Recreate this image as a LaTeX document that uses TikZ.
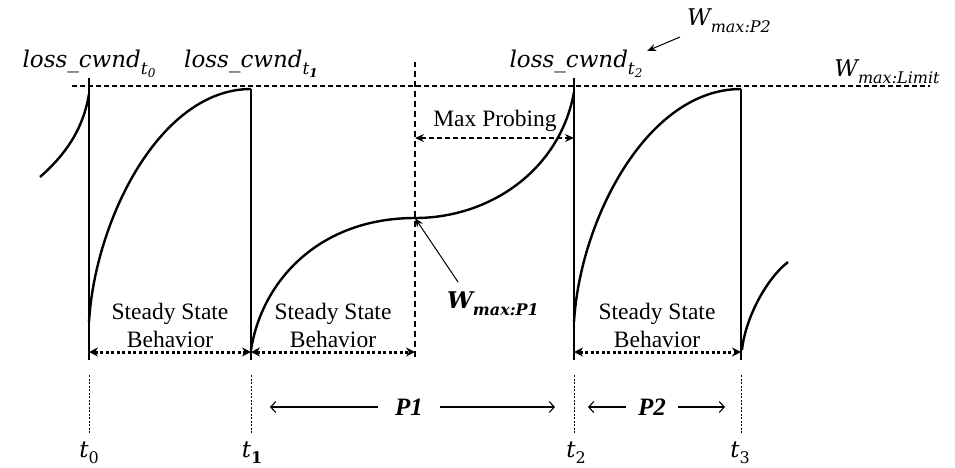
\documentclass[tikz,border=0pt]{standalone}
\usepackage{fontspec}
\setmainfont{Liberation Serif}
\newfontfamily\capfont{DejaVu Serif}
\usetikzlibrary{arrows.meta,positioning}
\newcommand{\losscw}[1]{{\capfont\itshape loss\_cwnd}\raisebox{-7pt}{\fontsize{17}{17}\selectfont\capfont\itshape t\raisebox{-3pt}{\fontsize{12}{12}\selectfont #1}}}
\newcommand{\wmaxlab}[1]{{\capfont\itshape W}\raisebox{-7pt}{\fontsize{16}{16}\selectfont\capfont\itshape max:#1}}
\newcommand{\tlab}[1]{{\capfont\itshape t}\raisebox{-6pt}{\fontsize{16}{16}\selectfont\capfont #1}}

\begin{document}
\begin{tikzpicture}[x=1pt,y=-1pt,
    curve/.style={line width=2.4pt,line join=round},
    wall/.style={line width=2.8pt},
    limit/.style={line width=1.2pt,dash pattern=on 5pt off 3pt},
    probeline/.style={line width=2pt,dash pattern=on 6pt off 4pt},
    steady/.style={line width=3pt,dash pattern=on 3pt off 2.5pt,
      {Stealth[length=9pt,width=9pt]}-{Stealth[length=9pt,width=9pt]}},
    probearrow/.style={line width=1.3pt,dash pattern=on 5pt off 3pt,
      {Stealth[length=9pt,width=8pt,inset=3pt]}-{Stealth[length=9pt,width=8pt,inset=3pt]}},
    tick/.style={line width=0.9pt,dash pattern=on 2pt off 1.5pt},
    period/.style={line width=1.1pt,-{Straight Barb[length=5pt,width=11pt]}},
    note/.style={line width=1pt,-{Stealth[length=9pt,width=7pt]}},
    txt/.style={font=\fontsize{23.5}{28}\selectfont,inner sep=0pt,align=center},
    lab/.style={font=\fontsize{23}{26}\selectfont,inner sep=0pt}]
  \useasboundingbox (0,0) rectangle (955,467);

  % time instants
  \coordinate (t0) at (89,360);
  \coordinate (t1) at (251,360);
  \coordinate (mid) at (415,357);
  \coordinate (t2) at (574,360);
  \coordinate (t3) at (741,360);
  \coordinate (peak) at (415,218);

  % limit line and loss walls
  \draw[limit] (72,86) -- (930,86);
  \draw[wall] (t0) -- (89,78);
  \draw[wall] (t1) -- (251,89);
  \draw[wall] (t2) -- (574,78);
  \draw[wall] (t3) -- (741,89);
  \draw[probeline] (mid) -- (415,62);

  % window curves
  \draw[curve] (40,177) .. controls (65,155) and (83,130) .. (89,94);
  \draw[curve] (89,322) .. controls (95,220) and (160,89) .. (251,89);
  \draw[curve] (251,350) .. controls (262,280) and (320,218) .. (peak)
    .. controls (490,218) and (560,170) .. (574,92);
  \draw[curve] (574,322) .. controls (580,220) and (647,89) .. (741,89);
  \draw[curve] (742,350) .. controls (745,320) and (765,280) .. (788,262);

  % steady state spans
  \draw[steady] (89,352) -- (251,352);
  \draw[steady] (251,352) -- (415,352);
  \draw[steady] (574,352) -- (741,352);
  \node[txt] (ss0) at (170,325) {Steady State\\Behavior};
  \node[txt] (ss1) at (333,325) {Steady State\\Behavior};
  \node[txt] (ss2) at (657,325) {Steady State\\Behavior};

  % max probing
  \draw[probearrow] (415,138) -- (574,138);
  \node[txt] (probe) at (495,121) {Max Probing};

  % labels on top
  \node[lab] (lc0) at (89,64) {\losscw{0}};
  \node[lab] (lc1) at (251,64) {\losscw{\bfseries 1}};
  \node[lab] (lc2) at (576,64) {\losscw{2}};
  \node[lab] (wlim) at (887,72) {\wmaxlab{Limit}};
  \node[lab] (wp2) at (729,21) {\wmaxlab{P2}};
  \node[lab,font=\fontsize{23}{26}\selectfont\bfseries] (wp1) at (493,304) {\wmaxlab{P1}};
  \coordinate (wp2a) at (680,37);
  \coordinate (wp1a) at (458,282);
  \draw[note] (wp2a) -- (647,51);
  \draw[note] (wp1a) -- (peak);

  % time axis
  \foreach \x in {89,251,574,741} \draw[tick] (\x,375) -- (\x,433);
  \node[lab] (lt0) at (89,453) {\tlab{0}};
  \node[lab] (lt1) at (252,453) {\tlab{\bfseries 1}};
  \node[lab] (lt2) at (576,453) {\tlab{2}};
  \node[lab] (lt3) at (740,453) {\tlab{3}};

  % periods
  \node[txt,font=\fontsize{25}{28}\selectfont\bfseries\itshape] (p1) at (409,407) {P1};
  \node[txt,font=\fontsize{25}{28}\selectfont\bfseries\itshape] (p2) at (652,407) {P2};
  \draw[period] (p1.west) ++(-17,0) -- (270,407);
  \draw[period] (p1.east) ++(17,0) -- (555,407);
  \draw[period] (p2.west) ++(-12,0) -- (588,407);
  \draw[period] (p2.east) ++(12,0) -- (725,407);
\end{tikzpicture}
\end{document}
